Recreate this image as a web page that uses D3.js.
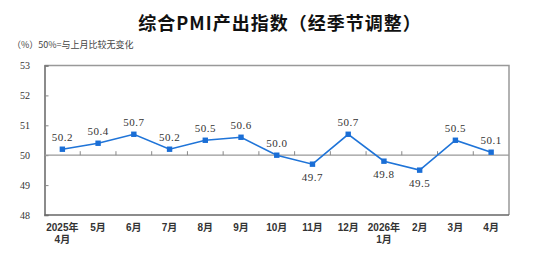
<!DOCTYPE html>
<html lang="zh">
  <head>
    <meta charset="UTF-8" />
    <title>综合PMI产出指数（经季节调整）</title>
    <script src="https://d3js.org/d3.v7.min.js"></script>
    <style>
      body { margin: 0; background: #fff; }
      svg { display: block; }
      .title { font-family: 'Noto Sans CJK SC', sans-serif; font-size: 18px; font-weight: bold; fill: #111; letter-spacing: 1px; }
      .note { font-family: 'Noto Sans CJK SC', serif; font-size: 9px; fill: #444; }
      .ylab { font-family: 'Liberation Serif', serif; font-size: 10px; fill: #333; }
      .xlab { font-family: 'Liberation Sans', 'Noto Sans CJK SC', sans-serif; font-size: 10px; font-weight: bold; fill: #333; }
      .val { font-family: 'Liberation Serif', serif; font-size: 11px; fill: #333; letter-spacing: 0.5px; }
    </style>
  </head>
  <body>
    <svg width="542" height="261"></svg>
    <script>
      const months = ['2025年\n4月', '5月', '6月', '7月', '8月', '9月', '10月', '11月', '12月', '2026年\n1月', '2月', '3月', '4月'];
      const values = [50.2, 50.4, 50.7, 50.2, 50.5, 50.6, 50.0, 49.7, 50.7, 49.8, 49.5, 50.5, 50.1];
      const yTicks = [48, 49, 50, 51, 52, 53];

      const svg = d3.select('svg');
      const mLeft = 44.5, mRight = 509, mTop = 65.5, mBottom = 215;

      const x = d3.scaleBand().domain(months).range([mLeft, mRight]);
      const y = d3.scaleLinear().domain([48, 53]).range([mBottom, mTop]);

      // title and note
      svg.append('text').attr('class', 'title')
        .attr('x', 280).attr('y', 30).attr('text-anchor', 'middle')
        .text('综合PMI产出指数（经季节调整）');
      svg.append('text').attr('class', 'note')
        .attr('x', 12).attr('y', 48)
        .text('（%）50%=与上月比较无变化');

      // frame: top and right
      svg.append('path')
        .attr('d', `M${mLeft},${mTop}H${mRight}V${mBottom}`)
        .attr('fill', 'none').attr('stroke', '#999').attr('stroke-width', 1.5);

      // left axis
      const yAxis = svg.append('g').attr('transform', `translate(${mLeft},0)`)
        .call(d3.axisRight(y).tickValues(yTicks).tickSize(4).tickFormat(''));
      yAxis.select('.domain').attr('stroke', '#666').attr('stroke-width', 1.5);
      yAxis.selectAll('.tick line').attr('stroke', '#888');

      svg.selectAll('.ylab').data(yTicks).enter().append('text')
        .attr('class', 'ylab')
        .attr('x', 25).attr('y', d => y(d) + 3.5)
        .attr('text-anchor', 'middle')
        .text(d => d);

      // bottom axis line
      svg.append('line')
        .attr('x1', mLeft).attr('x2', mRight).attr('y1', mBottom).attr('y2', mBottom)
        .attr('stroke', '#666').attr('stroke-width', 1.5);

      // 50 reference line with boundary ticks
      svg.append('line')
        .attr('x1', mLeft).attr('x2', mRight).attr('y1', y(50)).attr('y2', y(50))
        .attr('stroke', '#999').attr('stroke-width', 1.2);
      svg.selectAll('.btick').data(months.slice(1)).enter().append('line')
        .attr('x1', d => x(d)).attr('x2', d => x(d))
        .attr('y1', y(50)).attr('y2', y(50) - 4)
        .attr('stroke', '#888');

      // x labels, one text per line
      const xLines = [];
      months.forEach(m => m.split('\n').forEach((t, i) => xLines.push({ m, t, i })));
      svg.selectAll('.xlab').data(xLines).enter().append('text')
        .attr('class', 'xlab')
        .attr('text-anchor', 'middle')
        .attr('x', d => x(d.m) + x.bandwidth() / 2)
        .attr('y', d => 231 + d.i * 12)
        .text(d => d.t);

      // line
      const pts = months.map((m, i) => ({ m, v: values[i] }));
      const cx = d => x(d.m) + x.bandwidth() / 2;
      svg.append('path').datum(pts)
        .attr('fill', 'none').attr('stroke', '#1f74d8').attr('stroke-width', 1.6)
        .attr('d', d3.line().x(cx).y(d => y(d.v)));
      svg.selectAll('.mk').data(pts).enter().append('rect')
        .attr('x', d => cx(d) - 2.7).attr('y', d => y(d.v) - 2.7)
        .attr('width', 5.4).attr('height', 5.4)
        .attr('fill', '#1a6ed6');

      // value labels
      svg.selectAll('.val').data(pts).enter().append('text')
        .attr('class', 'val')
        .attr('text-anchor', 'middle')
        .attr('x', cx)
        .attr('y', d => d.v < 50 ? y(d.v) + 17 : y(d.v) - 8)
        .text(d => d.v.toFixed(1));
    </script>
  </body>
</html>
